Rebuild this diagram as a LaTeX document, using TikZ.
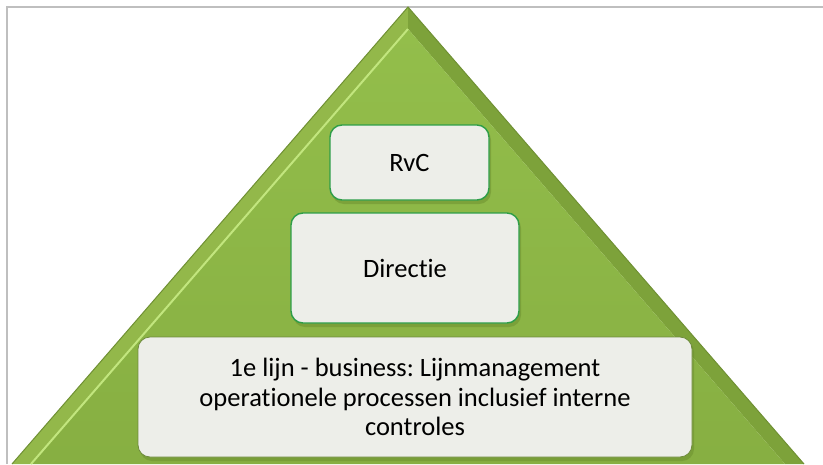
\documentclass[tikz,border=0pt]{standalone}
\usepackage{fontspec}
\setmainfont{Carlito}[Ligatures=NoCommon]
\definecolor{frameg}{HTML}{BFBFBF}
\definecolor{bevL}{HTML}{93B84A}
\definecolor{bevR}{HTML}{7DA23A}
\definecolor{bevEdge}{HTML}{6F9033}
\definecolor{hilite}{HTML}{C2E67E}
\definecolor{mainT}{HTML}{93BE4B}
\definecolor{mainB}{HTML}{87AF42}
\definecolor{boxfill}{HTML}{EDEEE9}
\definecolor{boxgreen}{HTML}{2E9E48}
\definecolor{boxolive}{HTML}{6E8B3D}
\definecolor{shadowg}{HTML}{6B8E2E}
\tikzset{
  layerbox/.style={rounded corners=12pt, fill=boxfill, line width=1.4pt, align=center,
    font=\fontsize{26.5}{29.3}\selectfont\frenchspacing, text=black},
}
\begin{document}
\begin{tikzpicture}[x=1pt,y=-1pt]
\useasboundingbox (0,0) rectangle (823,464);
% frame
\draw[frameg, line width=1.2pt] (7,464) -- (7,7) -- (823,7);
% triangle with bevel
\coordinate (apex) at (408,7);
\coordinate (bl) at (12,464);
\coordinate (br) at (804,464);
\coordinate (iapex) at (408,29);
\coordinate (ibl) at (31,464);
\coordinate (ibr) at (785,464);
\fill[bevL] (apex) -- (bl) -- (ibl) -- (iapex) -- cycle;
\fill[bevR] (apex) -- (br) -- (ibr) -- (iapex) -- cycle;
\shade[top color=mainT, bottom color=mainB] (iapex) -- (ibl) -- (ibr) -- cycle;
\draw[hilite, line width=2pt] (ibl) -- (iapex);
\draw[bevEdge, line width=1pt] (bl) -- (apex) -- (br);
% shadows
\fill[shadowg, opacity=0.5, rounded corners=12pt] (332,128) rectangle (491,204);
\fill[shadowg, opacity=0.5, rounded corners=12pt] (293,216) rectangle (521,327);
\fill[shadowg, opacity=0.5, rounded corners=12pt] (140,340) rectangle (694,461);
% boxes
\node[layerbox, draw=boxgreen, minimum width=159pt, minimum height=75pt] (rvc) at (409.5,162.5) {RvC};
\node[layerbox, draw=boxgreen, minimum width=228pt, minimum height=110pt] (dir) at (405,268) {Directie};
\node[layerbox, draw=boxolive, line width=0.8pt, minimum width=554pt, minimum height=120pt, inner sep=0pt] (bus) at (415,397) {1e lijn - business: Lijnmanagement\\operationele processen inclusief interne\\controles};
\end{tikzpicture}
\end{document}
